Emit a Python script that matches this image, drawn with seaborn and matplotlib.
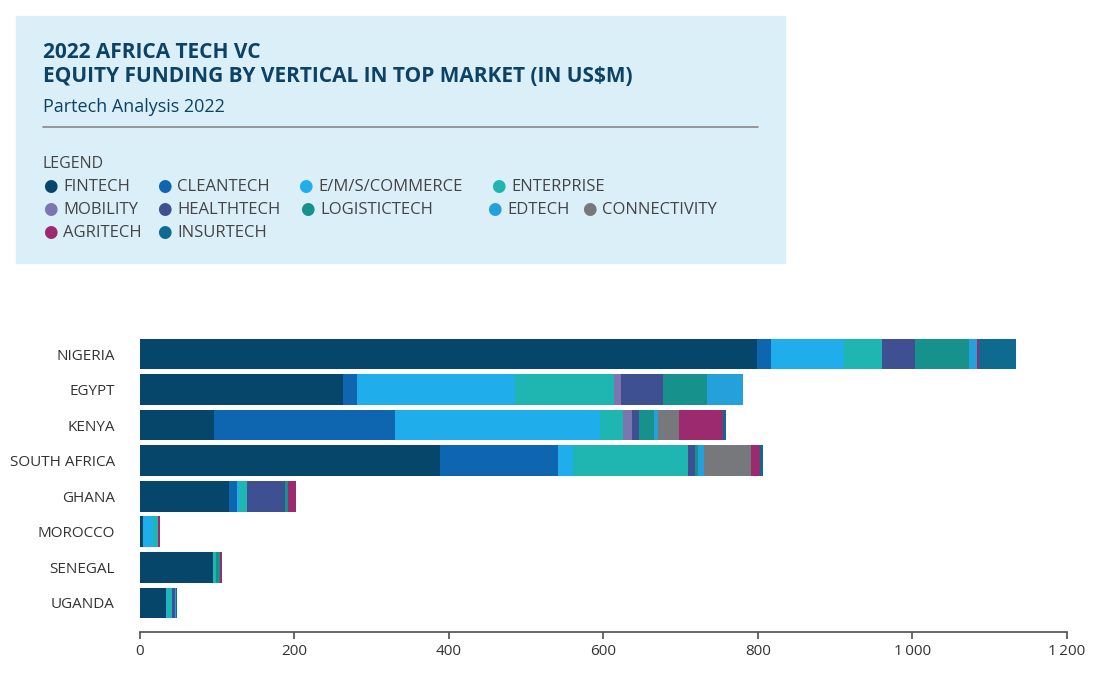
import pandas as pd
import matplotlib.pyplot as plt
import matplotlib.patches as mpatches
import seaborn as sns

sns.set_theme(style="white")
plt.rcParams["font.family"] = ["Open Sans", "DejaVu Sans"]

COUNTRIES = ["NIGERIA", "EGYPT", "KENYA", "SOUTH AFRICA", "GHANA", "MOROCCO", "SENEGAL", "UGANDA"]
VERTICALS = ["FINTECH", "CLEANTECH", "E/M/S/COMMERCE", "ENTERPRISE", "MOBILITY", "HEALTHTECH",
             "LOGISTICTECH", "EDTECH", "CONNECTIVITY", "AGRITECH", "INSURTECH"]
COLORS = ["#06466b", "#0f66b0", "#1fadec", "#1fb5b0", "#7b76b0", "#3e5092",
          "#16918c", "#24a0da", "#77787b", "#9b2b6e", "#0e6a8e"]

# values per vertical, in country order
fintech = [799, 263, 96, 389, 115, 4, 94, 34]
cleantech = [18, 18, 234, 152, 10, 0, 0, 0]
emscommerce = [95, 204, 266, 20, 3, 13, 0, 1]
enterprise = [49, 128, 29, 148, 10, 6, 4, 6]
mobility = [0, 10, 12, 0, 0, 0, 0, 0]
healthtech = [42, 54, 9, 9, 50, 1, 0, 5]
logistictech = [70, 57, 19, 4, 4, 0, 5, 0]
edtech = [10, 47, 5, 8, 0, 0, 0, 1]
connectivity = [0, 0, 28, 61, 0, 0, 0, 0]
agritech = [3, 0, 57, 11, 10, 2, 3, 0]
insurtech = [48, 0, 4, 5, 0, 0, 0, 1]

series = [fintech, cleantech, emscommerce, enterprise, mobility, healthtech,
          logistictech, edtech, connectivity, agritech, insurtech]
df = pd.DataFrame(dict(zip(VERTICALS, series)), index=COUNTRIES)

fig = plt.figure(figsize=(10.96, 6.78), dpi=100)
ax = fig.add_axes([0.1277, 0.068, 0.8458, 0.441])

left = pd.Series(0.0, index=COUNTRIES)
for k, (name, color) in enumerate(zip(VERTICALS, COLORS)):
    sns.barplot(x=df[name] + left, y=COUNTRIES, color=color, orient="h",
                ax=ax, width=0.86, saturation=1, linewidth=0, zorder=-k)
    left = left + df[name]

ax.set_xlim(0, 1200)
ax.set_ylim(7.82, -0.6)
ax.set_xticks([0, 200, 400, 600, 800, 1000, 1200])
ax.set_xticklabels(["0", "200", "400", "600", "800", "1\u2009000", "1\u2009200"])
ax.set_xlabel("")
ax.set_ylabel("")
sns.despine(ax=ax, left=True)
ax.spines["bottom"].set_color("#555555")
ax.tick_params(axis="x", length=5, color="#555555", labelsize=11, labelcolor="#333333", bottom=True)
ax.tick_params(axis="y", length=0, labelsize=11, labelcolor="#333333", pad=18)

# header box
fig.patches.append(mpatches.Rectangle((16 / 1096, 1 - 263 / 678), 769 / 1096, 247 / 678,
                                      transform=fig.transFigure, color="#dbeff9", zorder=0))
dark = "#0b4266"
fig.text(43 / 1096, 1 - 52 / 678, "2022 AFRICA TECH VC", fontsize=15, fontweight="bold", color=dark, va="center")
fig.text(43 / 1096, 1 - 77 / 678, "EQUITY FUNDING BY VERTICAL IN TOP MARKET (IN US$M)", fontsize=15,
         fontweight="bold", color=dark, va="center")
fig.text(43 / 1096, 1 - 107 / 678, "Partech Analysis 2022", fontsize=13, color=dark, va="center")
fig.lines.append(plt.Line2D([43 / 1096, 758 / 1096], [1 - 127 / 678] * 2, transform=fig.transFigure,
                            color="#888888", lw=1.2))
fig.text(43 / 1096, 1 - 164 / 678, "LEGEND", fontsize=11.5, color="#444444", va="center")

rows = [
    [(0, 43), (1, 157), (2, 298), (3, 491)],
    [(4, 43), (5, 157), (6, 300), (7, 487), (8, 582)],
    [(9, 43), (10, 157)],
]
for r, row in enumerate(rows):
    y = 1 - (187 + r * 23) / 678
    for i, x in row:
        fig.text(x / 1096, y, "\u25cf", color=COLORS[i], fontsize=12, va="center")
        fig.text((x + 20) / 1096, y, VERTICALS[i], fontsize=12, color="#444444", va="center")

fig.savefig("out.png", dpi=100)
